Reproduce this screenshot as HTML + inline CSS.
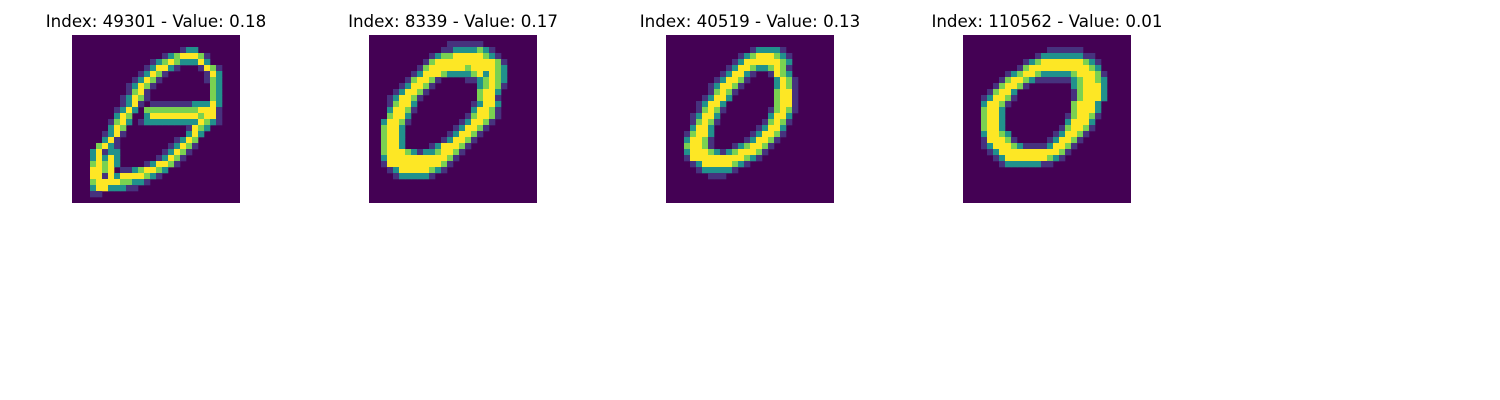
<!DOCTYPE html>
<html><head><meta charset="utf-8">
<style>
html,body{margin:0;padding:0;background:#fff;}
svg{display:block;}
text{font-family:"DejaVu Sans","Liberation Sans",sans-serif;font-size:16.7px;fill:#000;}
</style></head>
<body>
<svg id="fig" width="1500" height="400"></svg>
<script>
const titles = ["Index: 49301 - Value: 0.18","Index: 8339 - Value: 0.17","Index: 40519 - Value: 0.13","Index: 110562 - Value: 0.01"];
const img0 = [
"0000000000000000000000000000","0000000000000000000000000000",
"0000000000000000001220000000","0000000000000001234443100000",
"0000000000000123432224200000","0000000000001244210001431000",
"0000000000012431000000142000","0000000000124310000000132000",
"0000000001243100000000032000","0000000001341000000000032000",
"0000000012431000000000032000","0000000012410111111122242000",
"0000000124203333333334441000","0000000243002444444443441000",
"0000001342012222222224321000","0000002430000000000143200000",
"0000012410000000000242000000","0000024100000000012430000000",
"0000342100000000124310000000","0002412200000001243100000000",
"0002424200000012431000000000","0003434200001244310000000000",
"0004434011234432000000000000","0004414244443210000000000000",
"0003444433221000000000000000","0002442221100000000000000000",
"0001100000000000000000000000","0000000000000000000000000000"];
const img1 = [
"0000000000000000000000000000","0000000000000111111000000000",
"0000000000001122223210000000","0000000000123344444321000000",
"0000000001344444444443100000","0000000013444444344443200000",
"0000000124443222234243200000","0000001344310000112343200000",
"0000012443100000002343100000","0000124431000000003442000000",
"0001244310000000003441000000","0001344200000000012442000000",
"0002443100000000024431000000","0003442000000000134431000000",
"0024431000000001244310000000","0034420000000012443100000000",
"0034420000000124431000000000","0034420000001244310000000000",
"0034420000124443100000000000","0034443212234431000000000000",
"0024444444444310000000000000","0014444444443100000000000000",
"0001244444321000000000000000","0000122222100000000000000000",
"0000000000000000000000000000","0000000000000000000000000000",
"0000000000000000000000000000","0000000000000000000000000000"];
const img2 = [
"0000000000000000000000000000","0000000000000000000000000000",
"0000000000000012222100000000","0000000000001234443210000000",
"0000000000012444444320000000","0000000000124432234310000000",
"0000000001244210014320000000","0000000012443100002431000000",
"0000000124431000002431000000","0000000134310000003441000000",
"0000001244200000003441000000","0000012442000000003441000000",
"0000013431000000013431000000","0000124420000000024420000000",
"0000134310000000134310000000","0000244200000001244200000000",
"0001344200000012443100000000","0002443100000124431000000000",
"0003443100012344310000000000","0002444321234443100000000000",
"0001444444444321000000000000","0000124444432100000000000000",
"0000012222210000000000000000","0000000111000000000000000000",
"0000000000000000000000000000","0000000000000000000000000000",
"0000000000000000000000000000","0000000000000000000000000000"];
const img3 = [
"0000000000000000000000000000","0000000000000000000000000000",
"0000000000000011111100000000","0000000000001222222211000000",
"0000000000123444444432100000","0000000001344444444443200000",
"0000000123443222223444310000","0000001344321111112344320000",
"0000013443100000002344420000","0000134420000000001344420000",
"0001244310000000001344420000","0002443100000000003444200000",
"0003442000000000003444200000","0003442000000000013443100000",
"0003442000000000024442000000","0003442000000000134431000000",
"0002443200000001244310000000","0001444310000012443100000000",
"0001244432111124431000000000","0000124444444444310000000000",
"0000012444444432100000000000","0000001222222110000000000000",
"0000000000000000000000000000","0000000000000000000000000000",
"0000000000000000000000000000","0000000000000000000000000000",
"0000000000000000000000000000","0000000000000000000000000000"];
const images = [img0,img1,img2,img3];
const palette = ["#440154","#46327e","#21918c","#7ad151","#fde725"];

const NS="http://www.w3.org/2000/svg";
const svg=document.getElementById('fig');
const x0=[72,369,666,963], y0=35, size=168, n=28, cell=size/n;
images.forEach((img,k)=>{
  const g=document.createElementNS(NS,'g');
  
  
  const bg=document.createElementNS(NS,'rect');
  bg.setAttribute('x',x0[k]);bg.setAttribute('y',y0);bg.setAttribute('width',size);bg.setAttribute('height',size);bg.setAttribute('fill',palette[0]);
  
  
  g.appendChild(bg);
  img.forEach((row,r)=>{
    const s=row.padEnd(n,'0').slice(0,n);
    for(let c=0;c<n;c++){
      const v=+s[c];
      if(!v) continue;
      const rc=document.createElementNS(NS,'rect');
      rc.setAttribute('x',x0[k]+c*cell);rc.setAttribute('y',y0+r*cell);
      rc.setAttribute('width',cell+0.3);rc.setAttribute('height',cell+0.3);
      rc.setAttribute('fill',palette[v]);
      
      
      g.appendChild(rc);
    }
  });
  svg.appendChild(g);
  const t=document.createElementNS(NS,'text');
  t.setAttribute('x',x0[k]+size/2);t.setAttribute('y',27);t.setAttribute('text-anchor','middle');
  t.textContent=titles[k];
  
  
  svg.appendChild(t);
});
</script>
</body></html>
